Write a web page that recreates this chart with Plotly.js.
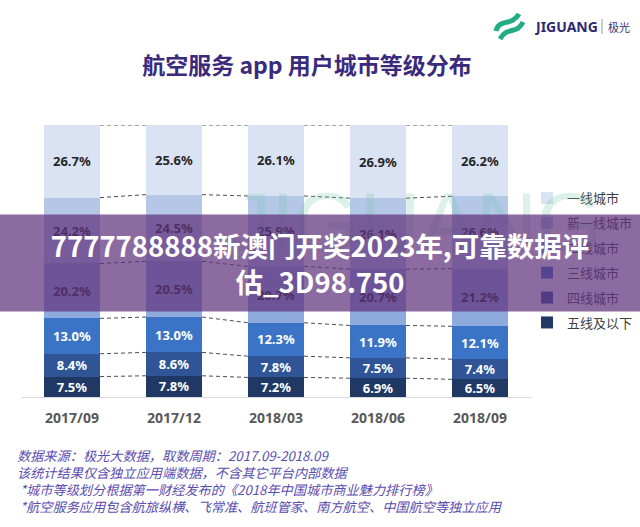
<!DOCTYPE html>
<html>
<head>
<meta charset="utf-8">
<script src="https://cdn.plot.ly/plotly-3.0.1.min.js"></script>
<style>
html,body{margin:0;padding:0;background:#fff;}
#chart{width:640px;height:527px;}
</style>
</head>
<body>
<div id="chart"></div>
<script>
// ---- data ----
const categories = ['2017/09', '2017/12', '2018/03', '2018/06', '2018/09'];
const seriesNames = ['五线及以下', '四线城市', '三线城市', '二线城市', '新一线城市', '一线城市'];
const tier5 = [7.5, 7.8, 7.2, 6.9, 6.5];
const tier4 = [8.4, 8.6, 7.8, 7.5, 7.4];
const tier3 = [13.0, 13.0, 12.3, 11.9, 12.1];
const tier2 = [20.2, 20.5, 20.7, 20.7, 21.2];
const newTier1 = [24.2, 24.5, 25.9, 26.1, 26.6];
const tier1 = [26.7, 25.6, 26.1, 26.9, 26.2];
const seriesValues = [tier5, tier4, tier3, tier2, newTier1, tier1];

const chartTitle = '航空服务 app 用户城市等级分布';
const footnotes = [
  '数据来源：极光大数据，取数周期：2017.09-2018.09',
  '该统计结果仅含独立应用端数据，不含其它平台内部数据',
  ' *城市等级划分根据第一财经发布的《2018年中国城市商业魅力排行榜》',
  ' *航空服务应用包含航旅纵横、飞常准、航班管家、南方航空、中国航空等独立应用'
];
const bannerText = '7777788888新澳门开奖2023年,可靠数据评<br>估_3D98.750';

// ---- styles ----
const colors = ['#1f3864', '#2f5597', '#3b74c6', '#8faadc', '#b4c7e7', '#dae3f3'];
const textColors = ['#ffffff', '#ffffff', '#ffffff', '#262626', '#262626', '#262626'];
const barWidth = 0.55;
const W = 640, H = 527;
const mL = 22, mR = 108, mT = 125, mB = 130;
const px2x = p => (p - mL) / (W - mL - mR);
const py2y = p => (H - mB - p) / (H - mT - mB);
const xIdx = categories.map((c, i) => i);

const traces = seriesValues.map((vals, k) => ({
  type: 'bar',
  name: seriesNames[k],
  x: xIdx,
  y: vals,
  width: barWidth,
  marker: {color: colors[k], line: {width: 0}},
  text: vals.map(v => v.toFixed(1) + '%'),
  textposition: 'inside',
  insidetextanchor: 'middle',
  textangle: 0,
  constraintext: 'none',
  textfont: {family: 'Noto Sans, sans-serif', size: 13, color: textColors[k], weight: 'bold'},
  hoverinfo: 'name+y',
  legendgroup: 'g' + k,
  legendrank: seriesValues.length - k
}));

// connector dashed lines between stacked boundaries
const cum = xIdx.map(i => {
  let s = 0; const out = [];
  seriesValues.forEach(v => { s += v[i]; out.push(s); });
  return out;
});
const cx = [], cy = [];
for (let i = 0; i < categories.length - 1; i++) {
  for (let k = 0; k < seriesValues.length; k++) {
    cx.push(i + barWidth / 2, i + 1 - barWidth / 2, null);
    cy.push(cum[i][k], cum[i + 1][k], null);
  }
}
traces.push({
  type: 'scatter', mode: 'lines', x: cx, y: cy,
  line: {color: '#4d4d4d', width: 1, dash: '4px,3px'},
  showlegend: false, hoverinfo: 'skip'
});

const G = '#22ad80';
const P = pts => pts.map(([cmd, x, y]) => (cmd || '') + px2x(x).toFixed(4) + ',' + py2y(y).toFixed(4)).join(' ');
const layout = {
  width: W, height: H,
  margin: {l: mL, r: mR, t: mT, b: mB, pad: 0, autoexpand: false},
  paper_bgcolor: '#ffffff', plot_bgcolor: '#ffffff',
  barmode: 'stack', bargap: 0.45,
  showlegend: true,
  title: {
    text: chartTitle, xref: 'container', yref: 'container',
    x: 307 / W, y: 1 - 66 / H, xanchor: 'center', yanchor: 'middle',
    font: {family: 'Noto Sans CJK SC, sans-serif', size: 23, color: '#3a2a7c', weight: 'bold'}
  },
  xaxis: {
    range: [-0.49, 4.51], tickvals: xIdx, ticktext: categories,
    showline: true, linecolor: '#d9d9d9', linewidth: 1,
    ticks: 'outside', ticklen: 8, tickcolor: 'rgba(0,0,0,0)',
    showgrid: false, zeroline: false, fixedrange: true,
    tickfont: {family: 'Noto Sans, sans-serif', size: 14, color: '#595959', weight: 'bold'}
  },
  yaxis: {
    range: [0, 100], visible: false, showgrid: false, zeroline: false, fixedrange: true
  },
  legend: {
    xref: 'container', yref: 'container',
    x: 527 / W, xanchor: 'left', y: 1 - 183 / H, yanchor: 'top',
    traceorder: 'grouped', tracegroupgap: 5,
    font: {family: 'Noto Sans CJK SC, sans-serif', size: 13, color: '#404040'},
    bgcolor: 'rgba(0,0,0,0)', itemwidth: 30
  },
  shapes: [
    // logo icon
    {type: 'path', xref: 'paper', yref: 'paper', path: P([['M', 496, 31], ['C', 499, 18], ['', 511, 27], ['', 519, 14]]), line: {color: G, width: 5}},
    {type: 'path', xref: 'paper', yref: 'paper', path: P([['M', 500, 39], ['C', 507, 26], ['', 517, 35], ['', 523, 22]]), line: {color: G, width: 5}},
    {type: 'line', xref: 'paper', yref: 'paper', x0: px2x(602), y0: py2y(19), x1: px2x(602), y1: py2y(34), line: {color: '#9a9a9a', width: 1}}
  ],
  annotations: [
    // faint watermark
    {xref: 'paper', yref: 'paper', x: px2x(415), y: py2y(222), xanchor: 'center', yanchor: 'middle', text: 'JIGUANG', showarrow: false,
     font: {family: 'Liberation Sans, sans-serif', size: 84, color: 'rgba(110,200,170,0.25)'}},
    // logo text
    {xref: 'paper', yref: 'paper', x: px2x(532), y: py2y(27), xanchor: 'left', yanchor: 'middle', text: 'JIGUANG', showarrow: false,
     font: {family: 'Noto Sans, sans-serif', size: 14, color: '#2e2a6e', weight: 'bold'}},
    {xref: 'paper', yref: 'paper', x: px2x(606), y: py2y(27), xanchor: 'left', yanchor: 'middle', text: '极光', showarrow: false,
     font: {family: 'Noto Sans CJK SC, sans-serif', size: 11, color: '#3a3570'}}
  ]
};

footnotes.forEach((t, i) => {
  layout.annotations.push({
    xref: 'paper', yref: 'paper', x: px2x(15), y: py2y(455 + i * 17), xanchor: 'left', yanchor: 'middle',
    text: '<i>' + t + '</i>', showarrow: false,
    font: {family: 'Noto Sans CJK SC, sans-serif', size: 13.2, color: '#5a4db0'}
  });
});

// overlay banner
layout.annotations.push({
  xref: 'paper', yref: 'paper', x: px2x(320), y: py2y(263), xanchor: 'center', yanchor: 'middle',
  width: 640, height: 96, bgcolor: 'rgba(95,50,125,0.72)', borderpad: 0,
  text: bannerText, showarrow: false, align: 'center', valign: 'middle',
  font: {family: 'Noto Sans CJK SC, sans-serif', size: 27.5, color: '#ffffff', weight: 'bold'}
});

Plotly.newPlot('chart', traces, layout, {displayModeBar: false, staticPlot: true});
</script>
</body>
</html>
